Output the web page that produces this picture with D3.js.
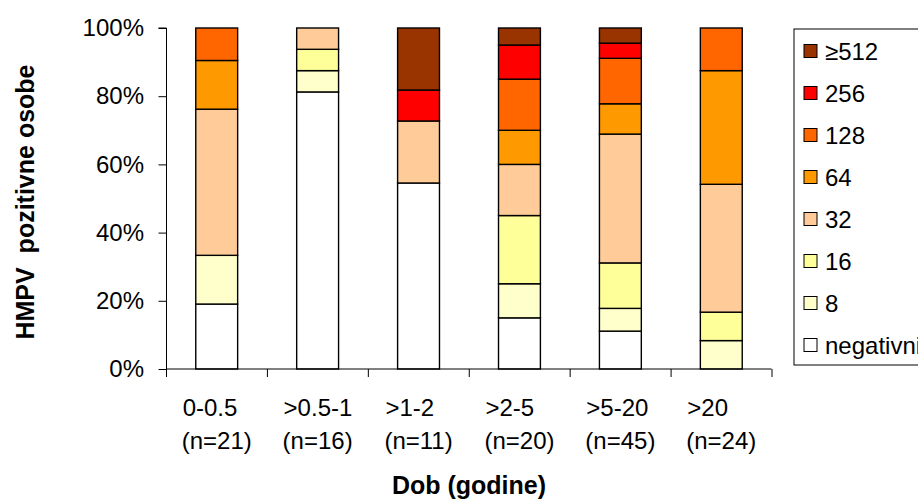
<!DOCTYPE html>
<html>
<head>
<meta charset="utf-8">
<script src="https://cdn.jsdelivr.net/npm/d3@7"></script>
<style>
  body { margin: 0; background: #fff; }
  svg { display: block; font-family: "Liberation Sans", Arial, sans-serif; }
</style>
</head>
<body>
<svg id="chart" width="918" height="500"></svg>
<script>
// ---- data ----
const categories = ["0-0.5", ">0.5-1", ">1-2", ">2-5", ">5-20", ">20"];
const sampleSizes = ["(n=21)", "(n=16)", "(n=11)", "(n=20)", "(n=45)", "(n=24)"];
const seriesNames = ["negativni", "8", "16", "32", "64", "128", "256", "≥512"];
// counts of persons per titre, per age group
const negativni = [4, 13, 6, 3, 5, 0];
const titre8    = [3, 1, 0, 2, 3, 2];
const titre16   = [0, 1, 0, 4, 6, 2];
const titre32   = [9, 1, 2, 3, 17, 9];
const titre64   = [3, 0, 0, 2, 4, 8];
const titre128  = [2, 0, 0, 3, 6, 3];
const titre256  = [0, 0, 1, 2, 2, 0];
const titre512  = [0, 0, 2, 1, 2, 0];
const yTickLabels = ["0%", "20%", "40%", "60%", "80%", "100%"];
const colors = ["#FFFFFF", "#FFFFCC", "#FFFF99", "#FFCC99", "#FF9900", "#FF6600", "#FF0000", "#993300"];

const seriesArrays = [negativni, titre8, titre16, titre32, titre64, titre128, titre256, titre512];
const table = categories.map((c, i) => {
  const row = { cat: c };
  seriesNames.forEach((s, j) => { row[s] = seriesArrays[j][i]; });
  return row;
});

const svg = d3.select("#chart");
const plot = { left: 166.5, right: 771.5, top: 28, bottom: 369 };

const x = d3.scaleBand().domain(categories).range([plot.left, plot.right]).paddingInner(0.585).paddingOuter(0.29);
const y = d3.scaleLinear().domain([0, 1]).range([plot.bottom, plot.top]);

const stack = d3.stack().keys(seriesNames).offset(d3.stackOffsetExpand);
const stacked = stack(table);

const color = d3.scaleOrdinal().domain(seriesNames).range(colors);

// bars
svg.append("g").selectAll("g").data(stacked).join("g")
  .attr("fill", d => color(d.key))
  .selectAll("rect").data(d => d.filter(p => p[1] - p[0] > 0)).join("rect")
  .attr("x", d => x(d.data.cat))
  .attr("width", x.bandwidth())
  .attr("y", d => y(d[1]))
  .attr("height", d => y(d[0]) - y(d[1]))
  .attr("stroke", "#000")
  .attr("stroke-width", 1.4);

// y axis
const yAxis = d3.axisLeft(y).tickValues([0, 0.2, 0.4, 0.6, 0.8, 1])
  .tickFormat((d, i) => yTickLabels[i]).tickSize(8).tickPadding(14.5);
const gy = svg.append("g").attr("transform", `translate(${plot.left},0)`).call(yAxis);
gy.select(".domain").attr("stroke", "#000").attr("d", `M-8,${plot.top}H0V${plot.bottom}`);
gy.selectAll("text").attr("font-size", 24).attr("fill", "#000").attr("font-family", "Liberation Sans, Arial, sans-serif");

// x axis (ticks at band boundaries)
const bandStep = x.step();
const boundaries = d3.range(categories.length + 1).map(i => x(categories[0]) - x.paddingOuter() * bandStep + i * bandStep);
const gx = svg.append("g");
gx.append("line").attr("x1", plot.left).attr("x2", plot.right).attr("y1", plot.bottom).attr("y2", plot.bottom).attr("stroke", "#000");
gx.selectAll("line.tk").data(boundaries).join("line").attr("class", "tk")
  .attr("x1", d => d).attr("x2", d => d).attr("y1", plot.bottom).attr("y2", plot.bottom + 8).attr("stroke", "#000");
const l2 = gx.selectAll("text.l2").data(sampleSizes).join("text").attr("class", "l2")
  .attr("x", (d, i) => x(categories[i]) + x.bandwidth() / 2).attr("y", 449)
  .attr("text-anchor", "middle").attr("font-size", 24).text(d => d);
const l2Widths = l2.nodes().map(n => n.getComputedTextLength());
gx.selectAll("text.l1").data(categories).join("text").attr("class", "l1")
  .attr("x", (d, i) => x(d) + x.bandwidth() / 2 - l2Widths[i] / 2 + 1).attr("y", 416)
  .attr("text-anchor", "start").attr("font-size", 24).text(d => d);

// axis titles
svg.append("text").attr("x", 469).attr("y", 494).attr("text-anchor", "middle")
  .attr("font-size", 25).attr("font-weight", "bold").text("Dob (godine)");
svg.append("text").attr("transform", "translate(34,202) rotate(-90)").attr("text-anchor", "middle")
  .attr("font-size", 25).attr("font-weight", "bold").text("HMPV  pozitivne osobe").attr("xml:space", "preserve")
  .style("white-space", "pre");

// legend
const legend = svg.append("g");
legend.append("rect").attr("x", 794).attr("y", 29).attr("width", 140).attr("height", 336)
  .attr("fill", "#fff").attr("stroke", "#000").attr("stroke-width", 1);
const legItems = seriesNames.slice().reverse();
const ly = d3.scalePoint().domain(legItems).range([51, 345]);
legend.selectAll("rect.sw").data(legItems).join("rect").attr("class", "sw")
  .attr("x", 804).attr("y", d => ly(d) - 6.5).attr("width", 13).attr("height", 13)
  .attr("fill", d => color(d)).attr("stroke", "#000").attr("stroke-width", 1);
legend.selectAll("text").data(legItems).join("text")
  .attr("x", 825).attr("y", d => ly(d) + 8.5).attr("font-size", 24).text(d => d);
</script>
</body>
</html>
